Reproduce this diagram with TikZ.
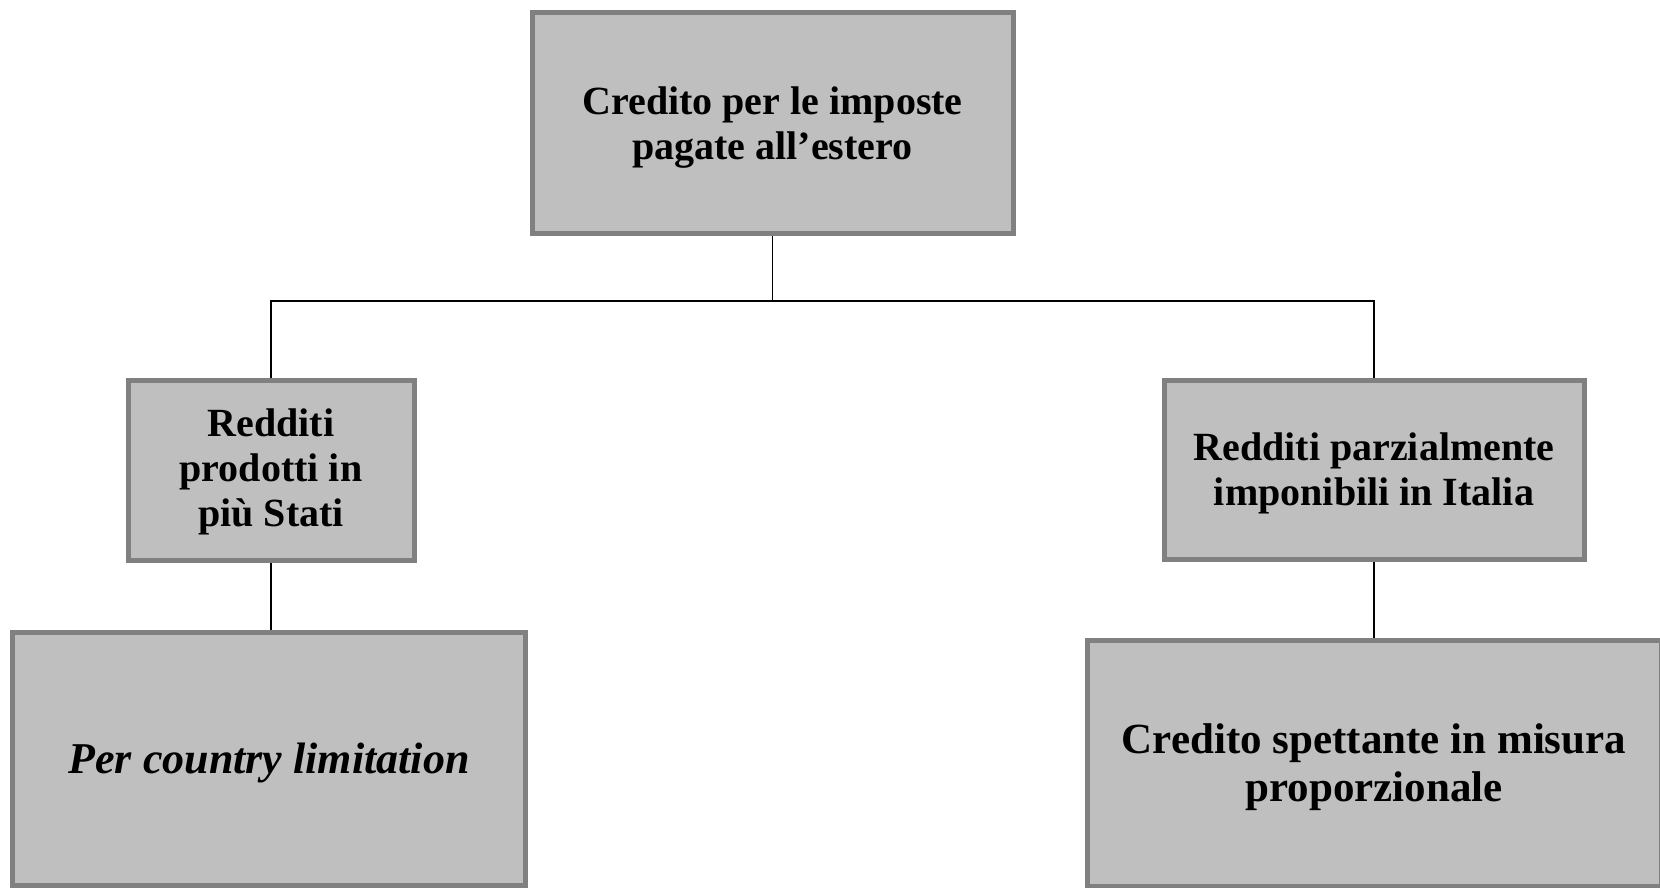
\documentclass[tikz,border=0pt]{standalone}
\usepackage{fontspec}
\setmainfont{Liberation Serif}
\usetikzlibrary{backgrounds}
\definecolor{boxfill}{HTML}{BFBFBF}
\definecolor{boxline}{HTML}{808080}
\newcommand\lowerstrut{\rule{0pt}{0.9em}}
\tikzset{
  box/.style={draw=boxline, fill=boxfill, line width=5pt, rectangle, inner sep=0pt, align=center, text=black},
  midtext/.style={font=\fontsize{40}{45}\selectfont\bfseries},
  bigtext/.style={font=\fontsize{43}{48}\selectfont\bfseries},
  italtext/.style={font=\fontsize{44}{48}\selectfont\bfseries\itshape},
  link/.style={draw=black, line width=1.6pt}
}
\begin{document}
\begin{tikzpicture}[x=1pt,y=-1pt]
\useasboundingbox (0,0) rectangle (1660,888);
\node[box, midtext, minimum width=481pt, minimum height=220pt] (top) at (772.5,123) {\lowerstrut Credito per le imposte\\pagate all’estero};
\node[box, midtext, minimum width=286pt, minimum height=180pt] (lm) at (271,470) {\rule{0pt}{0.8em}Redditi\\prodotti in\\più Stati};
\node[box, midtext, minimum width=420pt, minimum height=179pt] (rm) at (1374,469.5) {\lowerstrut Redditi parzialmente\\imponibili in Italia};
\node[box, italtext, minimum width=513pt, minimum height=253pt] (bl) at (269,758.5) {\lowerstrut Per country limitation};
\node[box, bigtext, minimum width=574pt, minimum height=246pt] (br) at (1374,763) {\lowerstrut Credito spettante in misura\\proporzionale};
\coordinate (bus) at (772.5,301);
\begin{scope}[on background layer]
\draw[link] (top.south) -- (top.south |- bus);
\draw[link] (lm.north) -- (lm.north |- bus) -- (rm.north |- bus) -- (rm.north);
\draw[link] (lm.south) -- (lm.south |- bl.north);
\draw[link] (rm.south) -- (rm.south |- br.north);
\end{scope}
\end{tikzpicture}
\end{document}
